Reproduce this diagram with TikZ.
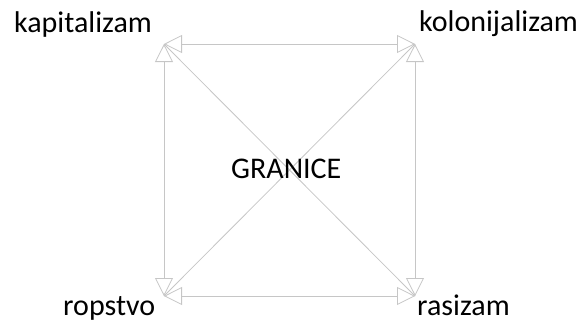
\documentclass[tikz,border=0pt]{standalone}
\usepackage{fontspec}
\setmainfont{Carlito}
\usetikzlibrary{arrows.meta}
\tikzset{
  lbl/.style={inner sep=0pt, anchor=base west, font=\fontsize{30}{36}\selectfont, text=black},
  edge/.style={draw=gray!45, line width=0.8pt},
  biarrow/.style={edge, {Triangle[open, length=18pt, width=18pt]}-{Triangle[open, length=18pt, width=18pt]}}
}
\begin{document}
\begin{tikzpicture}[x=1pt, y=-1pt]
  \useasboundingbox (0,0) rectangle (585,330);
  \coordinate (tl) at (164,44);
  \coordinate (tr) at (415,44);
  \coordinate (bl) at (164,296);
  \coordinate (br) at (415,296);
  \draw[edge] (tl) -- (br);
  \draw[edge] (tr) -- (bl);
  \draw[biarrow] (tl) -- (tr);
  \draw[biarrow] (tl) -- (bl);
  \draw[biarrow] (tr) -- (br);
  \draw[biarrow] (bl) -- (br);
  \node[lbl] (kap) at (14,32) {kapitalizam};
  \node[lbl] (kol) at (419,31) {kolonijalizam};
  \node[lbl] (rop) at (63,315) {ropstvo};
  \node[lbl] (ras) at (417,315) {rasizam};
  \node[lbl] (gra) at (231,178) {GRANICE};
\end{tikzpicture}
\end{document}
